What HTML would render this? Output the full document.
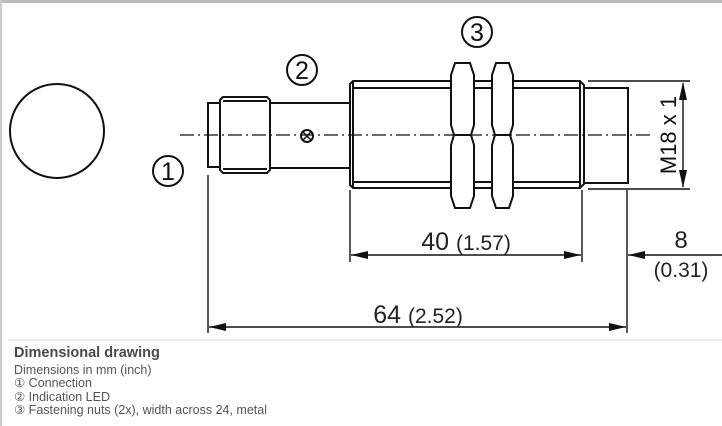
<!DOCTYPE html>
<html><head><style>
body{margin:0;width:722px;height:426px;background:#fff;overflow:hidden;position:relative;font-family:"Liberation Sans","DejaVu Sans",sans-serif}
.cap{position:absolute;left:14px;top:347px;color:#555;font-size:12.5px;line-height:13.5px}
.cap b{font-size:14.5px;display:block;margin-bottom:3px;color:#4a4a4a}
</style></head><body>
<svg width="722" height="426" style="position:absolute;left:0;top:0" font-family="Liberation Sans, sans-serif">
<rect x="0" y="0" width="722" height="3" fill="#bbb"/>
<line x1="1" y1="0" x2="1" y2="426" stroke="#ccc" stroke-width="2"/>
<line x1="8" y1="340" x2="722" y2="340" stroke="#ddd"/>
<g stroke="#111" fill="none" stroke-width="2">
<circle cx="57" cy="131" r="47"/>
<rect x="208" y="103" width="12" height="64"/>
<path d="M220 100 L223 97 L267 97 L270 100 L270 170 L267 173 L223 173 L220 170 Z"/>
<line x1="223" y1="101" x2="267" y2="101"/>
<line x1="223" y1="169" x2="267" y2="169"/>
<path d="M270 103 L350 103 M270 168 L350 168"/>
<circle cx="307" cy="136" r="6"/>
<path d="M303 132 L311 140 M311 132 L303 140" stroke-width="1.5"/>
<path d="M350 84 L353 81 L580 81 L584 85 L584 184 L580 188 L353 188 L350 185 Z" fill="#fff"/>
<line x1="353" y1="88" x2="580" y2="88"/>
<line x1="353" y1="182" x2="580" y2="182"/>
<line x1="353" y1="82" x2="353" y2="187"/>
<line x1="580" y1="82" x2="580" y2="187"/>
<rect x="584" y="88" width="44" height="95"/>
<path d="M455 63 L470 63 L474 75 L474 125 L471 135 L474 145 L474 196 L470 208 L455 208 L451 196 L451 145 L454 135 L451 125 L451 75 Z" fill="#fff"/>
<line x1="454" y1="135" x2="471" y2="135"/>
<path d="M496 63 L509 63 L513 75 L513 125 L510 135 L513 145 L513 196 L509 208 L496 208 L492 196 L492 145 L495 135 L492 125 L492 75 Z" fill="#fff"/>
<line x1="495" y1="135" x2="510" y2="135"/>
<circle cx="302" cy="70" r="15"/>
<circle cx="477" cy="32" r="15"/>
<circle cx="168" cy="171" r="15"/>
</g>
<line x1="180" y1="135" x2="650" y2="135" stroke="#111" stroke-width="1.3" stroke-dasharray="14,4,2,4"/>
<g fill="#111" font-size="25" text-anchor="middle">
<text x="302" y="79">2</text><text x="477" y="41">3</text><text x="168" y="180">1</text>
</g>
<g stroke="#111" stroke-width="1.4">
<line x1="588" y1="81" x2="690" y2="81"/><line x1="588" y1="189" x2="690" y2="189"/>
<line x1="683" y1="83" x2="683" y2="187"/>
<line x1="208" y1="175" x2="208" y2="333"/>
<line x1="350" y1="190" x2="350" y2="262"/>
<line x1="582" y1="190" x2="582" y2="262"/>
<line x1="627" y1="190" x2="627" y2="333"/>
<line x1="351" y1="255" x2="581" y2="255"/>
<line x1="628" y1="255" x2="722" y2="255"/>
<line x1="209" y1="327" x2="626" y2="327"/>
</g>
<g fill="#111">
<path d="M683 82 L679 100 L687 100 Z"/><path d="M683 188 L679 170 L687 170 Z"/>
<path d="M351 255 L368 251 L368 259 Z"/><path d="M581 255 L564 251 L564 259 Z"/>
<path d="M628 255 L645 251 L645 259 Z"/>
<path d="M209 327 L226 323 L226 331 Z"/><path d="M626 327 L609 323 L609 331 Z"/>
</g>
<text transform="translate(676,135) rotate(-90)" text-anchor="middle" font-size="22" fill="#111">M18 x 1</text>
<g fill="#222" font-size="25" text-anchor="middle">
<text x="466" y="250">40 <tspan font-size="21">(1.57)</tspan></text>
<text x="418" y="323">64 <tspan font-size="21">(2.52)</tspan></text>
<text x="681" y="248" font-size="24">8</text>
<text x="681" y="277" font-size="21">(0.31)</text>
</g>
</svg>
<div class="cap"><b>Dimensional drawing</b>Dimensions in mm (inch)<br>① Connection<br>② Indication LED<br>③ Fastening nuts (2x), width across 24, metal</div>
</body></html>
